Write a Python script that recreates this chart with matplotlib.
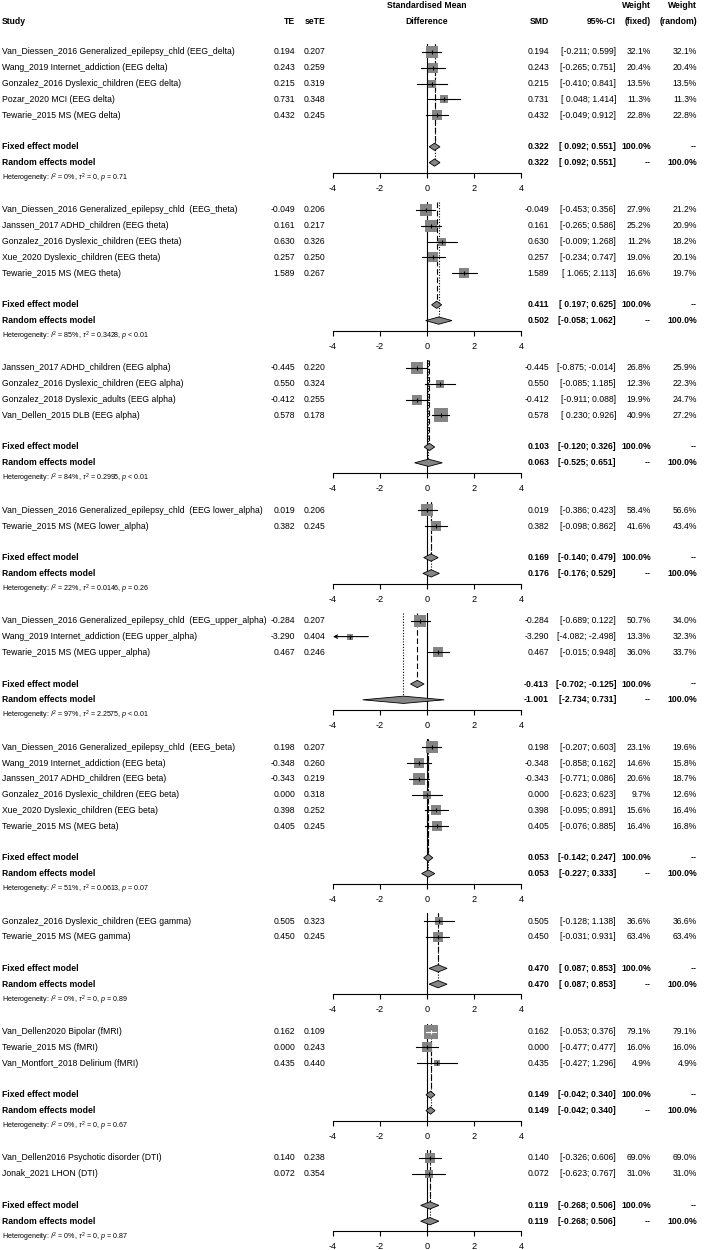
import matplotlib.pyplot as plt
from matplotlib.patches import Polygon

plt.rcParams['font.family'] = ['Liberation Sans', 'DejaVu Sans']
plt.rcParams['mathtext.fontset'] = 'custom'
plt.rcParams['mathtext.rm'] = 'Liberation Sans'
plt.rcParams['mathtext.it'] = 'Liberation Sans:italic'
plt.rcParams['mathtext.bf'] = 'Liberation Sans:bold'
plt.rcParams['axes.unicode_minus'] = False

# ---- data (one inner list per frequency band / modality) ----
studies = [
    ["Van_Diessen_2016 Generalized_epilepsy_chld (EEG_delta)", "Wang_2019 Internet_addiction (EEG delta)",
     "Gonzalez_2016 Dyslexic_children (EEG delta)", "Pozar_2020 MCI (EEG delta)", "Tewarie_2015 MS (MEG delta)"],
    ["Van_Diessen_2016 Generalized_epilepsy_chld  (EEG_theta)", "Janssen_2017 ADHD_children (EEG theta)",
     "Gonzalez_2016 Dyslexic_children (EEG theta)", "Xue_2020 Dyslexic_children (EEG theta)",
     "Tewarie_2015 MS (MEG theta)"],
    ["Janssen_2017 ADHD_children (EEG alpha)", "Gonzalez_2016 Dyslexic_children (EEG alpha)",
     "Gonzalez_2018 Dyslexic_adults (EEG alpha)", "Van_Dellen_2015 DLB (EEG alpha)"],
    ["Van_Diessen_2016 Generalized_epilepsy_chld  (EEG lower_alpha)", "Tewarie_2015 MS (MEG lower_alpha)"],
    ["Van_Diessen_2016 Generalized_epilepsy_chld  (EEG_upper_alpha)", "Wang_2019 Internet_addiction (EEG upper_alpha)",
     "Tewarie_2015 MS (MEG upper_alpha)"],
    ["Van_Diessen_2016 Generalized_epilepsy_chld  (EEG_beta)", "Wang_2019 Internet_addiction (EEG beta)",
     "Janssen_2017 ADHD_children (EEG beta)", "Gonzalez_2016 Dyslexic_children (EEG beta)",
     "Xue_2020 Dyslexic_children (EEG beta)", "Tewarie_2015 MS (MEG beta)"],
    ["Gonzalez_2016 Dyslexic_children (EEG gamma)", "Tewarie_2015 MS (MEG gamma)"],
    ["Van_Dellen2020 Bipolar (fMRI)", "Tewarie_2015 MS (fMRI)", "Van_Montfort_2018 Delirium (fMRI)"],
    ["Van_Dellen2016 Psychotic disorder (DTI)", "Jonak_2021 LHON (DTI)"],
]
te = [[0.194, 0.243, 0.215, 0.731, 0.432],
      [-0.049, 0.161, 0.630, 0.257, 1.589],
      [-0.445, 0.550, -0.412, 0.578],
      [0.019, 0.382],
      [-0.284, -3.290, 0.467],
      [0.198, -0.348, -0.343, 0.000, 0.398, 0.405],
      [0.505, 0.450],
      [0.162, 0.000, 0.435],
      [0.140, 0.072]]
sete = [[0.207, 0.259, 0.319, 0.348, 0.245],
        [0.206, 0.217, 0.326, 0.250, 0.267],
        [0.220, 0.324, 0.255, 0.178],
        [0.206, 0.245],
        [0.207, 0.404, 0.246],
        [0.207, 0.260, 0.219, 0.318, 0.252, 0.245],
        [0.323, 0.245],
        [0.109, 0.243, 0.440],
        [0.238, 0.354]]
ci_lo = [[-0.211, -0.265, -0.410, 0.048, -0.049],
         [-0.453, -0.265, -0.009, -0.234, 1.065],
         [-0.875, -0.085, -0.911, 0.230],
         [-0.386, -0.098],
         [-0.689, -4.082, -0.015],
         [-0.207, -0.858, -0.771, -0.623, -0.095, -0.076],
         [-0.128, -0.031],
         [-0.053, -0.477, -0.427],
         [-0.326, -0.623]]
ci_hi = [[0.599, 0.751, 0.841, 1.414, 0.912],
         [0.356, 0.586, 1.268, 0.747, 2.113],
         [-0.014, 1.185, 0.088, 0.926],
         [0.423, 0.862],
         [0.122, -2.498, 0.948],
         [0.603, 0.162, 0.086, 0.623, 0.891, 0.885],
         [1.138, 0.931],
         [0.376, 0.477, 1.296],
         [0.606, 0.767]]
w_fixed = [[32.1, 20.4, 13.5, 11.3, 22.8],
           [27.9, 25.2, 11.2, 19.0, 16.6],
           [26.8, 12.3, 19.9, 40.9],
           [58.4, 41.6],
           [50.7, 13.3, 36.0],
           [23.1, 14.6, 20.6, 9.7, 15.6, 16.4],
           [36.6, 63.4],
           [79.1, 16.0, 4.9],
           [69.0, 31.0]]
w_random = [[32.1, 20.4, 13.5, 11.3, 22.8],
            [21.2, 20.9, 18.2, 20.1, 19.7],
            [25.9, 22.3, 24.7, 27.2],
            [56.6, 43.4],
            [34.0, 32.3, 33.7],
            [19.6, 15.8, 18.7, 12.6, 16.4, 16.8],
            [36.6, 63.4],
            [79.1, 16.0, 4.9],
            [69.0, 31.0]]
fixed_est = [0.322, 0.411, 0.103, 0.169, -0.413, 0.053, 0.470, 0.149, 0.119]
fixed_lo = [0.092, 0.197, -0.120, -0.140, -0.702, -0.142, 0.087, -0.042, -0.268]
fixed_hi = [0.551, 0.625, 0.326, 0.479, -0.125, 0.247, 0.853, 0.340, 0.506]
random_est = [0.322, 0.502, 0.063, 0.176, -1.001, 0.053, 0.470, 0.149, 0.119]
random_lo = [0.092, -0.058, -0.525, -0.176, -2.734, -0.227, 0.087, -0.042, -0.268]
random_hi = [0.551, 1.062, 0.651, 0.529, 0.731, 0.333, 0.853, 0.340, 0.506]
i2 = ["0%", "85%", "84%", "22%", "97%", "51%", "0%", "0%", "0%"]
tau2 = ["0", "0.3428", "0.2995", "0.0146", "2.2575", "0.0613", "0", "0", "0"]
pval = ["= 0.71", "< 0.01", "< 0.01", "= 0.26", "< 0.01", "= 0.07", "= 0.89", "= 0.67", "= 0.87"]

W, H = 704, 1250
fig = plt.figure(figsize=(W / 100, H / 100), dpi=100)


def fx(px):
    return px / W


def fy(py):
    return 1 - py / H


ROW = 15.8
FS = 6.25
GRAY = '#858585'

# column right edges (pixels)
X_STUDY, X_TE, X_SE = 2, 295, 325
X_SMD, X_CI, X_WF, X_WR = 549, 616, 651, 697
AX_L, AX_R = 333, 521

# header
fig.text(fx(427), fy(6), "Standardised Mean", ha='center', va='center', fontsize=FS, fontweight='bold')
fig.text(fx(X_WF), fy(6), "Weight", ha='right', va='center', fontsize=FS, fontweight='bold')
fig.text(fx(X_WR), fy(6), "Weight", ha='right', va='center', fontsize=FS, fontweight='bold')
for x, s, ha in [(X_STUDY, "Study", 'left'), (X_TE, "TE", 'right'), (X_SE, "seTE", 'right'),
                 (427, "Difference", 'center'), (X_SMD, "SMD", 'right'), (X_CI, "95%-CI", 'right'),
                 (X_WF, "(fixed)", 'right'), (X_WR, "(random)", 'right')]:
    fig.text(fx(x), fy(22), s, ha=ha, va='center', fontsize=FS, fontweight='bold')


def ci_txt(lo, hi):
    return "[{:6.3f}; {:.3f}]".format(lo, hi)


y0 = 52
for g in range(len(studies)):
    k = len(studies[g])

    # ---- text columns ----
    for i in range(k):
        y = y0 + i * ROW
        fig.text(fx(X_STUDY), fy(y), studies[g][i], ha='left', va='center', fontsize=FS)
        fig.text(fx(X_TE), fy(y), "{:.3f}".format(te[g][i]), ha='right', va='center', fontsize=FS)
        fig.text(fx(X_SE), fy(y), "{:.3f}".format(sete[g][i]), ha='right', va='center', fontsize=FS)
        fig.text(fx(X_SMD), fy(y), "{:.3f}".format(te[g][i]), ha='right', va='center', fontsize=FS)
        fig.text(fx(X_CI), fy(y), ci_txt(ci_lo[g][i], ci_hi[g][i]), ha='right', va='center', fontsize=FS)
        fig.text(fx(X_WF), fy(y), "{:.1f}%".format(w_fixed[g][i]), ha='right', va='center', fontsize=FS)
        fig.text(fx(X_WR), fy(y), "{:.1f}%".format(w_random[g][i]), ha='right', va='center', fontsize=FS)

    yf = y0 + (k + 1) * ROW
    yr = y0 + (k + 2) * ROW
    for y, name, est, lo, hi, wf, wr in [
            (yf, "Fixed effect model", fixed_est[g], fixed_lo[g], fixed_hi[g], "100.0%", "--"),
            (yr, "Random effects model", random_est[g], random_lo[g], random_hi[g], "--", "100.0%")]:
        kw = dict(va='center', fontsize=FS, fontweight='bold')
        fig.text(fx(X_STUDY), fy(y), name, ha='left', **kw)
        fig.text(fx(X_SMD), fy(y), "{:.3f}".format(est), ha='right', **kw)
        fig.text(fx(X_CI), fy(y), ci_txt(lo, hi), ha='right', **kw)
        fig.text(fx(X_WF), fy(y), wf, ha='right', **kw)
        fig.text(fx(X_WR), fy(y), wr, ha='right', **kw)
    het = r"Heterogeneity: $I^2$ = " + i2[g] + r", $\tau^2$ = " + tau2[g] + r", $p$ " + pval[g]
    fig.text(fx(X_STUDY), fy(y0 + (k + 3) * ROW), het, ha='left', va='center', fontsize=5.1)

    # ---- forest panel ----
    bottom = k + 2.65
    top_px = y0 - 0.5 * ROW
    bot_px = y0 + bottom * ROW
    ax = fig.add_axes([fx(AX_L), fy(bot_px), fx(AX_R) - fx(AX_L), (bot_px - top_px) / H])
    ax.set_xlim(-4, 4)
    ax.set_ylim(bottom, -0.5)
    ax.patch.set_visible(False)
    for sp in ['top', 'left', 'right']:
        ax.spines[sp].set_visible(False)
    ax.spines['bottom'].set_linewidth(0.8)
    ax.set_yticks([])
    ax.set_xticks([-4, -2, 0, 2, 4])
    ax.tick_params(axis='x', direction='out', length=3.8, width=0.8, pad=4.0, labelsize=6.6)

    ax.axvline(0, color='black', lw=0.8, zorder=1)
    ax.plot([fixed_est[g]] * 2, [-0.5, k + 1 - 0.22], color='black', lw=0.8,
            ls=(0, (5, 2.5)), zorder=1)
    ax.plot([random_est[g]] * 2, [-0.5, k + 2 - 0.22], color='black', lw=0.8,
            ls=(0, (1, 1.5)), zorder=1)

    for i in range(k):
        side = min(14, 2.5 / sete[g][i])
        ax.scatter([te[g][i]], [i], marker='s', s=(side * 0.72) ** 2, color=GRAY,
                   linewidths=0, zorder=2)
        inside = (ci_hi[g][i] - ci_lo[g][i]) * (AX_R - AX_L) / 8 < side
        col = 'white' if inside else 'black'
        lo, hi = max(ci_lo[g][i], -4), min(ci_hi[g][i], 4)
        if ci_lo[g][i] < -4:
            ax.annotate('', xy=(-4, i), xytext=(hi, i),
                        arrowprops=dict(arrowstyle='->', lw=0.8, color=col,
                                        shrinkA=0, shrinkB=0, mutation_scale=6),
                        zorder=3)
        else:
            ax.plot([lo, hi], [i, i], color=col, lw=0.8, zorder=3)
        ax.plot([te[g][i]], [i], marker='|', ms=3.5, mew=0.8, color=col, zorder=3)

    for r, est, lo, hi in [(k + 1, fixed_est[g], fixed_lo[g], fixed_hi[g]),
                           (k + 2, random_est[g], random_lo[g], random_hi[g])]:
        ax.add_patch(Polygon([(lo, r), (est, r - 0.23), (hi, r), (est, r + 0.23)],
                             closed=True, facecolor=GRAY, edgecolor='black', lw=0.6, zorder=4))

    y0 += (k + 5) * ROW

plt.savefig('out.png', dpi=100)
